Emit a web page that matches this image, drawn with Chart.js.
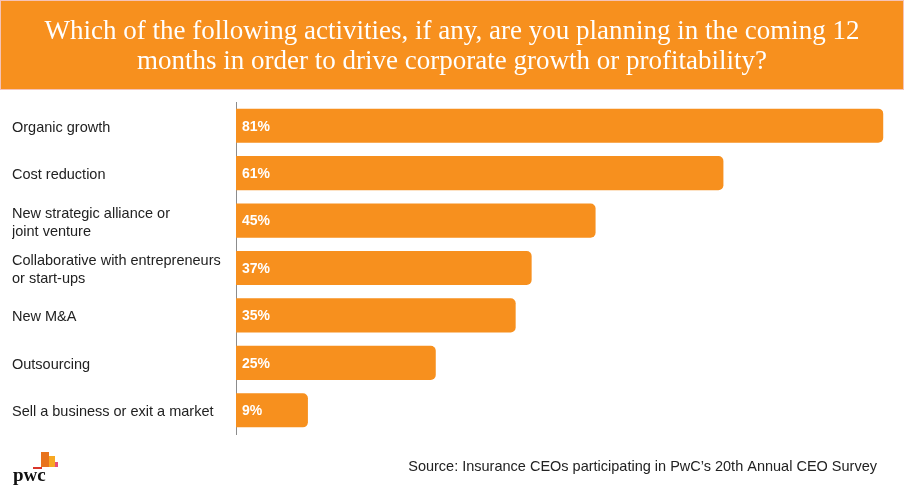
<!DOCTYPE html>
<html>
<head>
<meta charset="utf-8">
<script src="https://cdn.jsdelivr.net/npm/chart.js@4"></script>
<style>
  html, body { margin: 0; padding: 0; background: #fff; }
  #wrap { position: relative; width: 905px; height: 500px; }
</style>
</head>
<body>
<div id="wrap"><canvas id="chart" width="905" height="500"></canvas></div>
<script>
const titleLines = [
  'Which of the following activities, if any, are you planning in the coming 12',
  'months in order to drive corporate growth or profitability?'
];
const activities = [
  'Organic growth',
  'Cost reduction',
  ['New strategic alliance or', 'joint venture'],
  ['Collaborative with entrepreneurs', 'or start-ups'],
  'New M&A',
  'Outsourcing',
  'Sell a business or exit a market'
];
const shares = [81, 61, 45, 37, 35, 25, 9];
const sourceText = 'Source: Insurance CEOs participating in PwC\u2019s 20th Annual CEO Survey';

const orange = '#F7901E';

// title banner, value labels, source line and logo
const decorations = {
  id: 'decorations',
  beforeDraw(chart) {
    const c = chart.ctx;
    c.save();
    c.fillStyle = orange;
    c.fillRect(0, 0, 903, 89);
    c.strokeStyle = '#f5c3b8';
    c.lineWidth = 1;
    c.strokeRect(0.5, 0.5, 903, 89);
    c.fillStyle = '#fff';
    c.font = '27px "Liberation Serif", "Times New Roman", serif';
    c.textAlign = 'center';
    c.textBaseline = 'middle';
    c.fillText(titleLines[0], 452, 32);
    c.fillText(titleLines[1], 452, 62);
    c.restore();
  },
  afterDatasetsDraw(chart) {
    const c = chart.ctx;
    const meta = chart.getDatasetMeta(0);
    c.save();
    c.fillStyle = '#fff';
    c.font = 'bold 14px "Liberation Sans", Arial, sans-serif';
    c.textAlign = 'left';
    c.textBaseline = 'middle';
    meta.data.forEach((bar, i) => {
      c.fillText(shares[i] + '%', bar.base + 6, bar.y + 1);
    });

    c.fillStyle = '#222';
    c.font = '14.5px "Liberation Sans", Arial, sans-serif';
    c.textAlign = 'right';
    c.fillText(sourceText, 877, 467);

    // pwc mark
    c.fillStyle = '#e8731c';
    c.fillRect(41, 452, 8, 15);
    c.fillStyle = '#f7a823';
    c.fillRect(49, 456, 6, 11);
    c.fillStyle = '#d9362b';
    c.fillRect(33, 467, 9, 2);
    c.fillStyle = '#e64b7a';
    c.fillRect(55, 462, 3, 5);
    c.fillStyle = '#111';
    c.font = 'bold 19px "Liberation Serif", serif';
    c.textAlign = 'left';
    c.textBaseline = 'alphabetic';
    c.fillText('pwc', 13, 481);
    c.restore();
  }
};

new Chart(document.getElementById('chart'), {
  type: 'bar',
  data: {
    labels: activities,
    datasets: [{
      data: shares,
      backgroundColor: orange,
      borderRadius: { topLeft: 0, bottomLeft: 0, topRight: 5, bottomRight: 5 },
      borderSkipped: 'start',
      barPercentage: 0.72,
      categoryPercentage: 1
    }]
  },
  options: {
    indexAxis: 'y',
    responsive: false,
    animation: false,
    layout: { padding: { top: 102, bottom: 66, left: 12, right: 5 } },
    plugins: {
      legend: { display: false },
      tooltip: { enabled: false }
    },
    scales: {
      x: {
        display: false,
        min: 0,
        max: 83.1
      },
      y: {
        afterFit(scale) { scale.width = 224; },
        grid: { display: false, drawTicks: false },
        border: { display: true, color: '#8c8c8c', dash: [1, 3], width: 1 },
        ticks: {
          crossAlign: 'far',
          padding: 0,
          labelOffset: 2,
          color: '#222',
          font: { size: 14.5, family: '"Liberation Sans", Arial, sans-serif', lineHeight: 1.25 }
        }
      }
    }
  },
  plugins: [decorations]
});
</script>
</body>
</html>
